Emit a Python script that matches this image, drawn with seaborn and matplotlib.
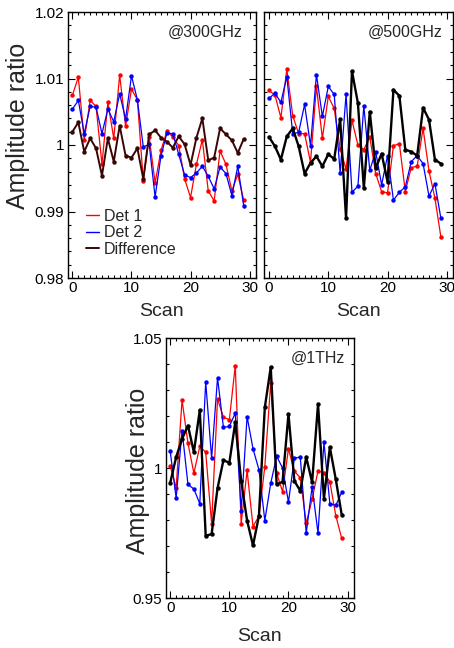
import matplotlib
matplotlib.use("Agg")
import matplotlib.pyplot as plt
import seaborn as sns
import pandas as pd
from matplotlib.ticker import MultipleLocator, FixedLocator, FixedFormatter
from matplotlib.lines import Line2D

scan = list(range(30))

det1_300 = [1.0075, 1.0102, 1.0007, 1.0067, 1.0058, 0.9971, 1.0064, 1.0010, 1.0105, 1.0028,
            1.0084, 1.0068, 0.9946, 1.0012, 0.9943, 0.9992, 1.0021, 1.0012, 0.9999, 0.9949,
            0.9921, 0.9971, 1.0008, 0.9931, 0.9916, 0.9991, 0.9971, 0.9931, 0.9956, 0.9917]
det2_300 = [1.0054, 1.0067, 1.0017, 1.0058, 1.0057, 1.0017, 1.0054, 1.0035, 1.0077, 1.0039,
            1.0104, 1.0068, 0.9997, 1.0001, 0.9922, 0.9984, 1.0018, 1.0017, 0.9986, 0.9955,
            0.9951, 0.9958, 0.9968, 0.9953, 0.9934, 0.9967, 0.9957, 0.9924, 0.9968, 0.9909]
diff_300 = [1.0020, 1.0034, 0.9990, 1.0010, 0.9995, 0.9954, 1.0010, 0.9975, 1.0029, 0.9984,
            0.9981, 0.9995, 0.9949, 1.0016, 1.0022, 1.0011, 1.0005, 0.9996, 1.0013, 1.0001,
            0.9970, 1.0011, 1.0040, 0.9977, 0.9981, 1.0025, 1.0016, 1.0007, 0.9988, 1.0009]

det1_500 = [1.0082, 1.0075, 1.0041, 1.0114, 1.0044, 1.0017, 1.0017, 0.9974, 1.0088, 1.0010,
            1.0073, 1.0055, 0.9994, 0.9964, 1.0037, 1.0000, 0.9993, 1.0012, 0.9957, 0.9930,
            0.9928, 0.9999, 1.0002, 0.9930, 0.9966, 0.9968, 1.0025, 0.9961, 0.9920, 0.9862]
det2_500 = [1.0070, 1.0078, 1.0064, 1.0103, 1.0017, 1.0019, 1.0061, 0.9999, 1.0106, 1.0043,
            1.0088, 1.0076, 0.9958, 1.0076, 0.9929, 0.9938, 1.0059, 0.9962, 0.9990, 0.9940,
            0.9984, 0.9917, 0.9929, 0.9937, 0.9975, 0.9984, 0.9972, 0.9923, 0.9942, 0.9890]
diff_500 = [1.0012, 0.9998, 0.9978, 1.0013, 1.0025, 0.9998, 0.9957, 0.9973, 0.9983, 0.9968,
            0.9986, 0.9979, 1.0039, 0.9890, 1.0111, 1.0063, 0.9935, 1.0050, 0.9965, 0.9987,
            0.9945, 1.0083, 1.0074, 0.9993, 0.9990, 0.9984, 1.0056, 1.0038, 0.9978, 0.9972]

det1_1t = [1.0008, 0.9924, 1.0261, 1.0095, 0.9980, 1.0083, 1.0061, 0.9786, 1.0266, 1.0195,
           1.0186, 1.0394, 0.9786, 0.9991, 0.9775, 0.9815, 1.0005, 1.0328, 0.9980, 0.9909,
           1.0074, 0.9987, 0.9963, 0.9787, 0.9880, 0.9989, 0.9981, 0.9947, 0.9817, 0.9730]
det2_1t = [1.0064, 0.9884, 1.0144, 0.9937, 0.9919, 0.9863, 1.0331, 1.0038, 1.0347, 1.0156,
           1.0160, 1.0211, 0.9836, 1.0198, 1.0074, 0.9994, 0.9798, 0.9941, 1.0045, 1.0000,
           0.9869, 1.0038, 1.0042, 0.9749, 0.9928, 0.9749, 1.0099, 0.9863, 0.9856, 0.9906]
diff_1t = [0.9943, 1.0042, 1.0112, 1.0163, 1.0061, 1.0223, 0.9739, 0.9746, 0.9922, 1.0030,
           1.0020, 1.0176, 0.9950, 0.9798, 0.9702, 0.9815, 1.0233, 1.0388, 0.9937, 0.9947,
           1.0207, 0.9950, 0.9912, 1.0042, 0.9945, 1.0246, 0.9882, 1.0080, 0.9957, 0.9821]

series_names = ["Det 1", "Det 2", "Difference"]
panel_titles = ["@300GHz", "@500GHz", "@1THz"]
x_ticks = [0, 10, 20, 30]
y_ticks_top = [0.98, 0.99, 1.0, 1.01, 1.02]
y_labels_top = ["0.98", "0.99", "1", "1.01", "1.02"]
y_ticks_bot = [0.95, 1.0, 1.05]
y_labels_bot = ["0.95", "1", "1.05"]

sns.set_style("ticks")
plt.rcParams['font.family'] = ['Liberation Sans', 'DejaVu Sans']

W, H = 454, 648
fig = plt.figure(figsize=(W / 100, H / 100), dpi=100)


def add_ax(l, t, r, b):
    return fig.add_axes([l / W, 1 - b / H, (r - l) / W, (b - t) / H])


ax1 = add_ax(67.7, 12, 255.5, 278)
ax2 = add_ax(264.3, 12, 452.7, 278)
ax3 = add_ax(165.5, 338, 353.5, 598)

panels = [
    (ax1, [det1_300, det2_300, diff_300], "#3a0505", 1.4),
    (ax2, [det1_500, det2_500, diff_500], "black", 1.7),
    (ax3, [det1_1t, det2_1t, diff_1t], "black", 1.7),
]

for ax, vals, dcol, dlw in panels:
    colors = ["#ff0000", "#0000ff", dcol]
    lws = [0.9, 0.9, dlw]
    for name, v, c, lw in zip(series_names, vals, colors, lws):
        df = pd.DataFrame({"Scan": scan, "ratio": v})
        sns.lineplot(data=df, x="Scan", y="ratio", ax=ax, color=c, linewidth=lw,
                     marker="o", markersize=3.2, markeredgewidth=0, legend=False)
    ax.set_xlim(-0.8, 31)
    ax.xaxis.set_major_locator(FixedLocator(x_ticks))
    ax.xaxis.set_minor_locator(MultipleLocator(1))
    ax.tick_params(which="both", direction="in", top=True, right=True,
                   labelsize=11, width=0.8, colors="black", pad=2.5)
    ax.tick_params(which="major", length=5)
    ax.tick_params(which="minor", length=2.5)
    for s in ax.spines.values():
        s.set_linewidth(1.0)
        s.set_color("black")
    ax.set_xlabel("Scan", fontsize=14)
    ax.set_ylabel("")

ax1.set_ylim(0.98, 1.02)
ax2.set_ylim(0.98, 1.02)
ax3.set_ylim(0.95, 1.05)
for ax in (ax1, ax2):
    ax.yaxis.set_major_locator(FixedLocator(y_ticks_top))
    ax.yaxis.set_minor_locator(MultipleLocator(0.002))
ax1.yaxis.set_major_formatter(FixedFormatter(y_labels_top))
ax2.tick_params(labelleft=False)
ax3.yaxis.set_major_locator(FixedLocator(y_ticks_bot))
ax3.yaxis.set_minor_locator(MultipleLocator(0.01))
ax3.yaxis.set_major_formatter(FixedFormatter(y_labels_bot))

for ax in (ax1, ax2):
    ax.xaxis.set_label_coords(0.5, -0.094)
ax3.xaxis.set_label_coords(0.5, -0.117)

ax1.set_ylabel("Amplitude ratio", fontsize=18)
ax3.set_ylabel("Amplitude ratio", fontsize=18)
ax1.yaxis.set_label_coords(-0.2, 0.571)
ax3.yaxis.set_label_coords(-0.085, 0.49)

ax1.text(0.93, 0.925, panel_titles[0], transform=ax1.transAxes, ha="right", va="center", fontsize=11.5)
ax2.text(0.947, 0.922, panel_titles[1], transform=ax2.transAxes, ha="right", va="center", fontsize=11.5)
ax3.text(0.955, 0.921, panel_titles[2], transform=ax3.transAxes, ha="right", va="center", fontsize=11.5)

handles = [Line2D([], [], color="#ff0000", lw=1.0),
           Line2D([], [], color="#0000ff", lw=1.0),
           Line2D([], [], color="#3a0505", lw=1.4)]
ax1.legend(handles, series_names, loc="lower left", bbox_to_anchor=(0.1, 0.08),
           frameon=False, fontsize=11.5, handlelength=0.8, handletextpad=0.3,
           labelspacing=0.1, borderaxespad=0, borderpad=0)

fig.savefig("out.png", dpi=100)
